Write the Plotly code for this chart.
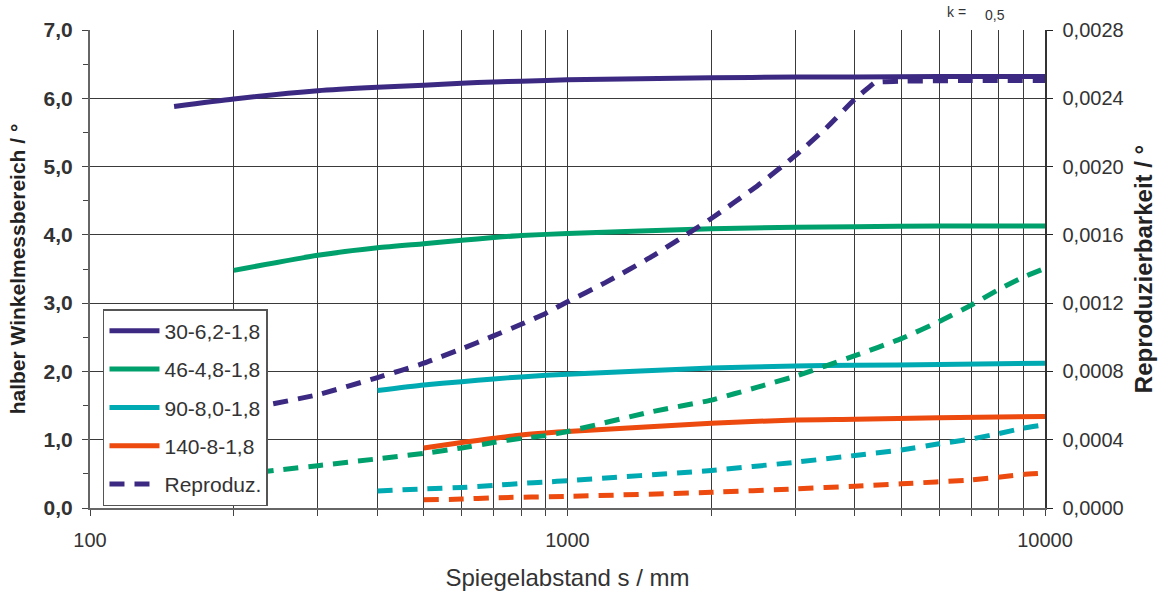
import plotly.graph_objects as go

# ---- data ----
# solid lines: halber Winkelmessbereich (left axis, degrees)
x_30 = [150, 200, 300, 400, 500, 600, 700, 800, 1000, 2000, 3000, 4000, 6000, 10000]
y_30 = [5.88, 5.99, 6.11, 6.16, 6.19, 6.22, 6.24, 6.25, 6.27, 6.30, 6.31, 6.31, 6.32, 6.32]

x_46 = [200, 300, 400, 500, 600, 700, 800, 1000, 2000, 3000, 4000, 6000, 10000]
y_46 = [3.48, 3.70, 3.81, 3.87, 3.92, 3.96, 3.99, 4.02, 4.09, 4.11, 4.12, 4.13, 4.13]

x_90 = [400, 500, 600, 700, 800, 1000, 2000, 3000, 4000, 6000, 10000]
y_90 = [1.72, 1.80, 1.85, 1.89, 1.92, 1.96, 2.05, 2.08, 2.09, 2.10, 2.12]

x_140 = [500, 600, 700, 800, 900, 1000, 2000, 3000, 4000, 6000, 10000]
y_140 = [0.88, 0.96, 1.02, 1.07, 1.10, 1.12, 1.24, 1.29, 1.30, 1.32, 1.34]

# dashed lines: Reproduzierbarkeit (right axis, degrees)
xr_30 = [150, 200, 300, 400, 500, 600, 700, 800, 900, 1000, 1200, 1500, 2000, 2500,
         3000, 3500, 4000, 4300, 4400, 5000, 7000, 10000]
yr_30 = [0.00054, 0.000568, 0.000664, 0.000764, 0.000848, 0.000932, 0.001008, 0.001076,
         0.00114, 0.001208, 0.00132, 0.001472, 0.001696, 0.001888, 0.002064, 0.002232,
         0.002396, 0.00247, 0.002492, 0.0025, 0.002504, 0.002504]

xr_46 = [200, 250, 300, 400, 500, 600, 700, 800, 900, 1000, 1500, 2000, 2500, 3000,
         4000, 5000, 6000, 7000, 8000, 9000, 10000]
yr_46 = [0.000192, 0.000224, 0.000248, 0.000288, 0.00032, 0.000352, 0.000384, 0.000408,
         0.000424, 0.000448, 0.000564, 0.000632, 0.000708, 0.000772, 0.000892, 0.000992,
         0.001092, 0.001188, 0.00128, 0.001352, 0.001404]

xr_90 = [400, 500, 600, 700, 800, 900, 1000, 2000, 3000, 4000, 5000, 6000, 7000, 8000,
         9000, 10000]
yr_90 = [0.0001, 0.000112, 0.00012, 0.000132, 0.000144, 0.000152, 0.00016, 0.00022,
         0.000268, 0.000308, 0.00034, 0.000376, 0.000404, 0.000436, 0.000468, 0.000488]

xr_140 = [500, 600, 700, 1000, 2000, 3000, 4000, 5000, 7000, 9000, 10000]
yr_140 = [0.000048, 0.000052, 0.00006, 0.000068, 0.000092, 0.000112, 0.000128, 0.000142,
          0.000164, 0.000196, 0.000204]

names = ["30-6,2-1,8", "46-4,8-1,8", "90-8,0-1,8", "140-8-1,8"]
colors = ["#3C2A82", "#00A06C", "#00AAB2", "#EC4A0E"]

FONT = "Arial, Liberation Sans, sans-serif"
DASH = "15px,10px"

fig = go.Figure()

solid = [(x_30, y_30), (x_46, y_46), (x_90, y_90), (x_140, y_140)]
for i, ((xs, ys), n, c) in enumerate(zip(solid, names, colors)):
    fig.add_trace(go.Scatter(x=xs, y=ys, mode="lines", name=n,
                             line=dict(color=c, width=5, shape="spline", smoothing=0.6),
                             legendgroup=f"g{i}", legendrank=i + 1))

dashed = [(xr_30, yr_30), (xr_46, yr_46), (xr_90, yr_90), (xr_140, yr_140)]
for i, ((xs, ys), c) in enumerate(zip(dashed, colors)):
    fig.add_trace(go.Scatter(x=xs, y=ys, mode="lines", yaxis="y2",
                             name="Reproduz.", showlegend=(i == 0),
                             line=dict(color=c, width=5, dash=DASH, shape="spline",
                                       smoothing=0.4),
                             legendgroup="g4", legendrank=5))

W, H = 1168, 596
ML, MR, MT, MB = 90, 123, 30, 88

fig.update_layout(
    width=W, height=H,
    margin=dict(l=ML, r=MR, t=MT, b=MB, autoexpand=False),
    paper_bgcolor="white", plot_bgcolor="white",
    separators=",.",
    font=dict(family=FONT, color="#222"),
    hovermode=False,
    xaxis=dict(
        type="log", range=[2, 4], dtick=1, automargin=False,
        tickvals=[100, 1000, 10000], ticktext=["100", "1000", "10000"],
        showgrid=True, gridcolor="#3a3a3a", gridwidth=1,
        ticks="outside", ticklen=6, tickcolor="#444",
        showline=True, linecolor="#666", linewidth=2,
        tickfont=dict(size=20, color="#333"),
        ticklabelstandoff=7,
        minor=dict(tickvals=[200, 300, 400, 500, 600, 700, 800, 900,
                             2000, 3000, 4000, 5000, 6000, 7000, 8000, 9000],
                   showgrid=True, gridcolor="#3a3a3a", gridwidth=1,
                   ticks="outside", ticklen=6, tickcolor="#444"),
        title=dict(text="Spiegelabstand s / mm", font=dict(size=24, color="#333"),
                   standoff=19),
        zeroline=False,
    ),
    yaxis=dict(
        range=[0, 7], dtick=1, tickformat=".1f", automargin=False,
        showgrid=True, gridcolor="#3a3a3a", gridwidth=1,
        ticks="outside", ticklen=6, tickcolor="#444",
        showline=True, linecolor="#666", linewidth=2,
        tickfont=dict(size=21, color="#333", weight="bold"),
        ticklabelstandoff=5,
        minor=dict(dtick=0.5, ticks="outside", ticklen=5, tickcolor="#444", showgrid=False),
        title=dict(text="halber Winkelmessbereich / °",
                   font=dict(size=21, color="#222", weight="bold"), standoff=12),
        zeroline=False,
    ),
    yaxis2=dict(
        overlaying="y", side="right", anchor="x", automargin=False,
        range=[0, 0.0028], dtick=0.0004, tickformat=".4f",
        showgrid=False, zeroline=False,
        ticks="outside", ticklen=6, tickcolor="#222",
        showline=True, linecolor="#333", linewidth=1.5,
        tickfont=dict(size=20, color="#333"),
        ticklabelstandoff=6,
        title=dict(text="Reproduzierbarkeit / °",
                   font=dict(size=24, color="#222", weight="bold"), standoff=12),
    ),
    legend=dict(
        x=0.0136, y=0.416, xanchor="left", yanchor="top",
        bgcolor="white", bordercolor="#555", borderwidth=1.5,
        font=dict(size=21, color="#333"),
        tracegroupgap=8, traceorder="grouped", itemwidth=50,
    ),
)

W_PLOT = W - ML - MR
H_PLOT = H - MT - MB
fig.add_annotation(text="k =", x=(956 - ML) / W_PLOT, y=(H - MB - 12) / H_PLOT,
                   xref="paper", yref="paper", showarrow=False,
                   xanchor="center", yanchor="middle", font=dict(size=14, color="#333"))
fig.add_annotation(text="0,5", x=(995 - ML) / W_PLOT, y=(H - MB - 15) / H_PLOT,
                   xref="paper", yref="paper", showarrow=False,
                   xanchor="center", yanchor="middle", font=dict(size=14, color="#333"))

# remove the browser's default body margin so the figure fills the window exactly
fig.write_html("out.html",
               config={"displayModeBar": False, "staticPlot": True},
               post_script="document.body.style.margin='0';document.body.style.overflow='hidden';")
